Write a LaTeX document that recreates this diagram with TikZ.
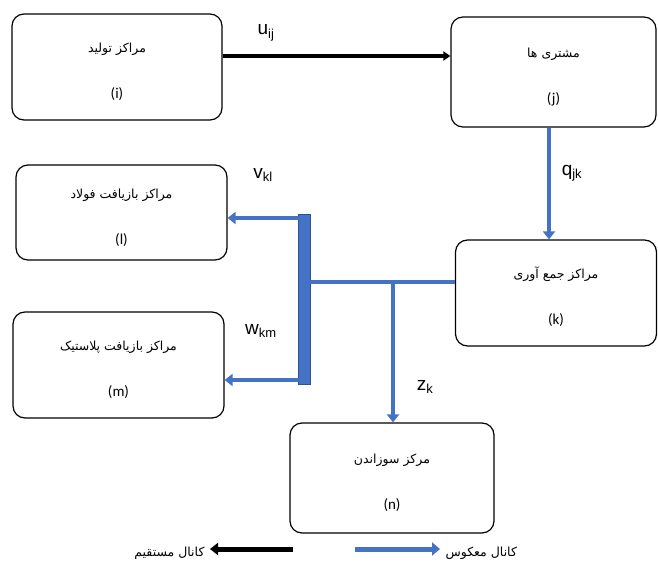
\documentclass[tikz,border=0pt]{standalone}
\usepackage{fontspec}
\setmainfont{Liberation Sans}
\newfontfamily\fa[Script=Arabic]{DejaVu Sans}
\newfontfamily\lb{Carlito}
\TeXXeTstate=1
\usetikzlibrary{arrows.meta,positioning}
\definecolor{revblue}{RGB}{68,114,196}
\definecolor{revedge}{RGB}{47,82,143}
\newcommand{\fatext}[1]{{\fa\fontsize{12.5}{14}\selectfont\beginR #1\endR}}
\newcommand{\boxtext}[2]{\rule{0pt}{20pt}\fatext{#1}\\[31pt]{\lb\fontsize{15}{17}\selectfont(#2)}}
\newcommand{\flow}[2]{{\fontsize{19}{21}\selectfont #1\textsubscript{\fontsize{13}{15}\selectfont #2}}}
\tikzset{
  box/.style={draw, line width=1.2pt, rounded corners=12pt, inner sep=0pt, align=center},
  fwd/.style={line width=4.5pt, -{Triangle[length=7pt,width=9pt]}},
  rev/.style={revblue, line width=4pt, -{Triangle[length=8pt,width=12pt]}},
}
\begin{document}
\begin{tikzpicture}[x=1pt,y=-1pt]
  \useasboundingbox (0,0) rectangle (658,564);
  % boxes
  \node[box, minimum width=210pt, minimum height=106pt] (prod) at (117,67) {\boxtext{مراکز تولید}{i}};
  \node[box, minimum width=205pt, minimum height=110pt] (cust) at (553.5,72) {\boxtext{مشتری ها}{j}};
  \node[box, minimum width=211pt, minimum height=95pt] (steel) at (121.5,212.5) {\boxtext{مراکز بازیافت فولاد}{l}};
  \node[box, minimum width=211pt, minimum height=106pt] (plast) at (118.5,365) {\boxtext{مراکز بازیافت پلاستیک}{m}};
  \node[box, minimum width=201pt, minimum height=106pt] (coll) at (556,293) {\boxtext{مراکز جمع آوری}{k}};
  \node[box, minimum width=204pt, minimum height=110pt] (burn) at (392,478) {\boxtext{مرکز سوزاندن}{n}};
  % connectors
  \draw[fwd] (prod.east |- 0,56) -- (cust.west |- 0,56);
  \draw[rev] (cust.south -| 549,0) -- (coll.north -| 549,0);
  \coordinate (bartop) at (302,218);
  \coordinate (barbot) at (302,380);
  \coordinate (junc) at (393,282);
  \fill[revblue, draw=revedge, line width=0.8pt] (298,214) rectangle (310,384);
  \draw[revblue, line width=4pt] (coll.west |- junc) -- (310,282);
  \draw[rev] (bartop) -- (steel.east |- bartop);
  \draw[rev] (barbot) -- (plast.east |- barbot);
  \draw[rev] (junc) -- (burn.north -| junc);
  % labels
  \node (uij) at (266,33) {\flow{u}{ij}};
  \node (qjk) at (572,173) {\flow{q}{jk}};
  \node (vkl) at (263,175) {\flow{v}{kl}};
  \node (wkm) at (261,331) {\flow{w}{km}};
  \node (zk) at (425,387) {\flow{z}{k}};
  % legend
  \coordinate (fs) at (293,549);
  \coordinate (fe) at (210,549);
  \coordinate (rs) at (355,549);
  \coordinate (re) at (440,549);
  \draw[line width=5pt, -{Triangle[length=8pt,width=12pt]}] (fs) -- (fe);
  \draw[rev, line width=5pt, -{Triangle[length=8pt,width=13pt]}] (rs) -- (re);
  \node[anchor=east] (fwdtxt) at (208,553) {\fatext{کانال مستقیم}};
  \node[anchor=west] (revtxt) at (442,553) {\fatext{کانال معکوس}};
\end{tikzpicture}
\end{document}
